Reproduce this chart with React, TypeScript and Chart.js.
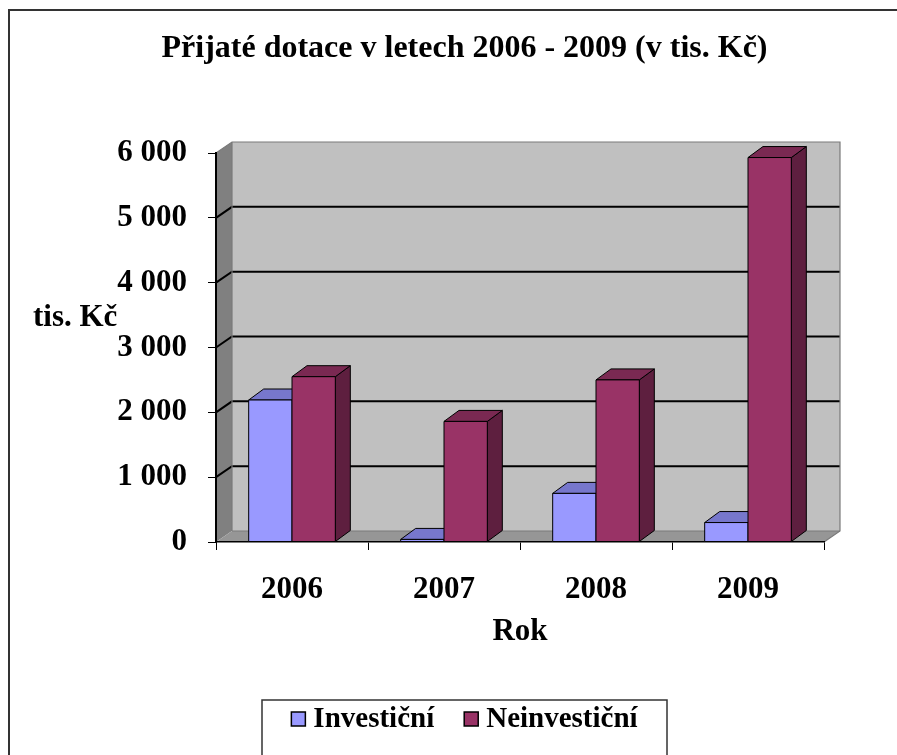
import React, { useEffect, useRef } from 'react';
import { Chart, registerables } from 'chart.js';

Chart.register(...registerables);

// ---- data ----
const chartTitle = 'Přijaté dotace v letech 2006 - 2009 (v tis. Kč)';
const categories = ['2006', '2007', '2008', '2009'];
const seriesNames = ['Investiční', 'Neinvestiční'];
const investicni = [2190, 40, 750, 300];
const neinvesticni = [2550, 1860, 2500, 5930];
const yMin = 0;
const yMax = 6000;
const yStep = 1000;
const xAxisTitle = 'Rok';
const yAxisTitle = 'tis. Kč';

// ---- styles ----
const FONT = '"Liberation Serif", "Times New Roman", serif';
const frontColors = ['#9999FF', '#993366'];
const topColors = ['#7777CC', '#7A2952'];
const sideColors = ['#5C5C99', '#5E1F3F'];
const W = 897;
const H = 755;
const DX = 16; // wall depth
const DY = 11;
const BDX = 15; // bar depth
const BDY = 11;

function fmt(v: number): string {
  const n = Math.round(v);
  if (n < 1000) return String(n);
  const th = Math.floor(n / 1000);
  const rest = String(n % 1000).padStart(3, '0');
  return th + '\u00a0' + rest;
}

function poly(ctx: CanvasRenderingContext2D, pts: number[][], fill: string | null, stroke?: string, lw = 1) {
  ctx.beginPath();
  ctx.moveTo(pts[0][0], pts[0][1]);
  for (let k = 1; k < pts.length; k++) ctx.lineTo(pts[k][0], pts[k][1]);
  ctx.closePath();
  if (fill) {
    ctx.fillStyle = fill;
    ctx.fill();
  }
  if (stroke) {
    ctx.strokeStyle = stroke;
    ctx.lineWidth = lw;
    ctx.stroke();
  }
}

const threeD = {
  id: 'threeD',
  beforeDraw(chart: any) {
    const ctx: CanvasRenderingContext2D = chart.ctx;
    const ca = chart.chartArea;
    const ys = chart.scales.y;
    ctx.save();
    // outer frame
    ctx.strokeStyle = '#333';
    ctx.lineWidth = 2;
    ctx.strokeRect(9, 10, W + 40, H + 40);

    const L = ca.left;
    const R = ca.right;
    const T = ys.getPixelForValue(yMax);
    const B = ys.getPixelForValue(yMin);
    // back wall
    ctx.fillStyle = '#C0C0C0';
    ctx.fillRect(L + DX, T - DY, R - L, B - T);
    // left wall
    poly(ctx, [[L, T], [L + DX, T - DY], [L + DX, B - DY], [L, B]], '#808080');
    // floor
    poly(ctx, [[L, B], [R, B], [R + DX, B - DY], [L + DX, B - DY]], '#969696');

    // grid lines on walls
    ctx.strokeStyle = '#000';
    ctx.lineWidth = 2;
    ys.ticks.forEach((t: any) => {
      if (t.value <= yMin || t.value >= yMax) return;
      const y = ys.getPixelForValue(t.value);
      ctx.beginPath();
      ctx.moveTo(L, y);
      ctx.lineTo(L + DX, y - DY);
      ctx.lineTo(R + DX, y - DY);
      ctx.stroke();
    });
    // wall edges
    ctx.strokeStyle = '#7a7a7a';
    ctx.lineWidth = 1.2;
    ctx.beginPath();
    ctx.moveTo(L, T);
    ctx.lineTo(L + DX, T - DY);
    ctx.lineTo(R + DX, T - DY);
    ctx.lineTo(R + DX, B - DY);
    ctx.lineTo(R, B);
    ctx.stroke();
    ctx.beginPath();
    ctx.moveTo(L + DX, B - DY);
    ctx.lineTo(R + DX, B - DY);
    ctx.moveTo(L + DX, T - DY);
    ctx.lineTo(L + DX, B - DY);
    ctx.stroke();

    // y axis title (horizontal)
    ctx.fillStyle = '#000';
    ctx.font = `bold 31px ${FONT}`;
    ctx.textAlign = 'left';
    ctx.textBaseline = 'middle';
    ctx.fillText(yAxisTitle, 33, 318);
    ctx.restore();
  },
  beforeDatasetDraw() {
    return false;
  },
  afterDatasetsDraw(chart: any) {
    const ctx: CanvasRenderingContext2D = chart.ctx;
    ctx.save();
    ctx.lineJoin = 'round';
    const n = chart.data.labels.length;
    for (let j = 0; j < n; j++) {
      for (let i = 0; i < chart.data.datasets.length; i++) {
        const el: any = chart.getDatasetMeta(i).data[j];
        const { x, y, base, width } = el.getProps(['x', 'y', 'base', 'width'], true);
        const l = x - width / 2;
        const r = x + width / 2;
        const top = Math.min(y, base);
        const bot = Math.max(y, base);
        // side face
        poly(ctx, [[r, top], [r + BDX, top - BDY], [r + BDX, bot - BDY], [r, bot]], sideColors[i], '#000', 1);
        // top face
        poly(ctx, [[l, top], [r, top], [r + BDX, top - BDY], [l + BDX, top - BDY]], topColors[i], '#000', 1);
        // front face
        poly(ctx, [[l, top], [r, top], [r, bot], [l, bot]], frontColors[i], '#000', 1);
      }
    }
    ctx.restore();
  },
  afterDraw(chart: any) {
    const ctx: CanvasRenderingContext2D = chart.ctx;
    ctx.save();
    const cx = 464.5;
    const lw = 405;
    const lx = cx - lw / 2;
    const ly = 700;
    ctx.strokeStyle = '#333';
    ctx.lineWidth = 1.5;
    ctx.strokeRect(lx, ly, lw, 90);
    ctx.font = `bold 29px ${FONT}`;
    ctx.textBaseline = 'middle';
    ctx.textAlign = 'left';
    const box = 14;
    const gap = 8;
    const itemGap = 30;
    const widths = chart.data.datasets.map((d: any) => ctx.measureText(d.label).width);
    let total = 0;
    widths.forEach((w: number, k: number) => {
      total += box + gap + w + (k > 0 ? itemGap : 0);
    });
    let x = cx - total / 2;
    const my = 719;
    chart.data.datasets.forEach((d: any, k: number) => {
      ctx.fillStyle = frontColors[k];
      ctx.fillRect(x, my - box / 2, box, box);
      ctx.strokeStyle = '#000';
      ctx.lineWidth = 1.5;
      ctx.strokeRect(x, my - box / 2, box, box);
      ctx.fillStyle = '#000';
      ctx.fillText(d.label, x + box + gap, my + 1);
      x += box + gap + widths[k] + itemGap;
    });
    ctx.restore();
  },
};

export default function App() {
  const ref = useRef<HTMLCanvasElement>(null);
  useEffect(() => {
    if (!ref.current) return;
    Chart.defaults.font.family = FONT;
    const tickFont = { family: FONT, size: 31, weight: 'bold' as const };
    const chart = new Chart(ref.current, {
      type: 'bar',
      data: {
        labels: categories,
        datasets: [
          { label: seriesNames[0], data: investicni, backgroundColor: frontColors[0] },
          { label: seriesNames[1], data: neinvesticni, backgroundColor: frontColors[1] },
        ],
      },
      options: {
        responsive: false,
        animation: false,
        devicePixelRatio: 1,
        layout: { padding: { left: 105, right: W - 824, top: 0, bottom: 104 } },
        datasets: { bar: { barPercentage: 1, categoryPercentage: 0.57 } },
        plugins: {
          legend: { display: false },
          tooltip: { enabled: false },
          title: {
            display: true,
            text: chartTitle,
            color: '#000',
            font: { family: FONT, size: 32, weight: 'bold' },
            padding: { top: 30, bottom: 84.6 },
          },
        },
        scales: {
          x: {
            type: 'category',
            offset: true,
            grid: { offset: true, drawOnChartArea: false, drawTicks: true, tickLength: 8, color: '#000', lineWidth: 1 },
            border: { display: true, color: '#000', width: 1.5 },
            ticks: { font: tickFont, color: '#000', padding: 21, maxRotation: 0, autoSkip: false },
            title: { display: true, text: xAxisTitle, color: '#000', font: tickFont, padding: 0 },
            afterFit: (s: any) => {
              s.height = 109;
            },
          },
          y: {
            min: yMin,
            max: yMax,
            ticks: {
              stepSize: yStep,
              font: tickFont,
              color: '#000',
              padding: 21,
              callback: (v: any) => fmt(Number(v)),
            },
            grid: { drawOnChartArea: false, drawTicks: true, tickLength: 8, color: '#000', lineWidth: 1 },
            border: { display: true, color: '#000', width: 2 },
            afterFit: (s: any) => {
              s.width = 111;
            },
          },
        },
      },
      plugins: [threeD],
    } as any);
    return () => chart.destroy();
  }, []);
  return (
    <div style={{ position: 'fixed', left: 0, top: 0, width: W, height: H, overflow: 'hidden', background: '#fff' }}>
      <canvas ref={ref} width={W} height={H} style={{ width: W, height: H, display: 'block' }} />
    </div>
  );
}
